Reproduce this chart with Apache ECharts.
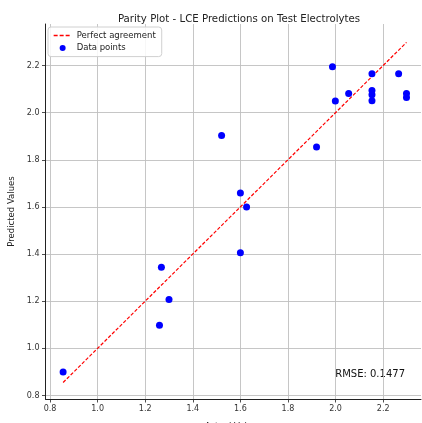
<!DOCTYPE html>
<html><head><meta charset="utf-8">
<script src="https://cdn.jsdelivr.net/npm/echarts@6/dist/echarts.min.js"></script>
<style>html,body{margin:0;padding:0;background:#fff}#c{width:422px;height:423px}</style>
</head><body><div id="c"></div>
<script>
const actual = [0.855, 1.26, 1.30, 1.268, 1.60, 1.60, 1.626, 1.92, 1.521, 1.987, 1.999, 2.055, 2.153, 2.153, 2.153, 2.153, 2.265, 2.298, 2.298];
const predicted = [0.90, 1.098, 1.207, 1.344, 1.405, 1.659, 1.60, 1.854, 1.903, 2.195, 2.049, 2.081, 2.165, 2.094, 2.076, 2.05, 2.165, 2.081, 2.064];
const xTicks = [0.8, 1.0, 1.2, 1.4, 1.6, 1.8, 2.0, 2.2];
const yTicks = [0.8, 1.0, 1.2, 1.4, 1.6, 1.8, 2.0, 2.2];
const rmseText = 'RMSE: 0.1477';
const titleText = 'Parity Plot - LCE Predictions on Test Electrolytes';

const lo = Math.min(...actual), hi = Math.max(...actual);
const font = 'DejaVu Sans';
const chart = echarts.init(document.getElementById('c'));
function axisCfg(ticks, min, max, name, isY) {
  return {
    type: 'value', min: min, max: max,
    name: name, nameLocation: 'middle', nameGap: isY ? 28.5 : 23.5,
    nameTextStyle: {fontFamily: font, fontSize: 8.5, color: '#222'},
    axisLine: {show: true, onZero: false, lineStyle: {color: '#222', width: 1}},
    axisTick: {show: true, length: 3.5, customValues: ticks, lineStyle: {color: '#222', width: 0.8}},
    axisLabel: {customValues: ticks, fontFamily: font, fontSize: 8, color: '#333', margin: 6,
      formatter: v => v.toFixed(1)},
    splitLine: {show: true, lineStyle: {color: '#bfbfbf', width: 0.9}}
  };
}
chart.setOption({
  animation: false,
  title: {text: titleText, left: 234, textAlign: 'center', top: 9,
    textStyle: {fontFamily: font, fontSize: 10.2, fontWeight: 'normal', color: '#222'}},
  grid: {left: 45.5, right: 1, top: 24, bottom: 24, containLabel: false, outerBoundsMode: 'none'},
  xAxis: axisCfg(xTicks, 0.781, 2.359, 'Actual Values', false),
  yAxis: axisCfg(yTicks, 0.785, 2.376, 'Predicted Values', true),
  legend: {
    left: 48, top: 27, orient: 'vertical', itemGap: 3.6, itemWidth: 18, itemHeight: 6,
    padding: [4, 6, 4, 5],
    borderColor: '#d0d0d0', borderWidth: 1, borderRadius: 3, backgroundColor: 'rgba(255,255,255,0.85)',
    textStyle: {fontFamily: font, fontSize: 8.5, color: '#222'},
    data: [
      {name: 'Perfect agreement', itemStyle: {opacity: 0, borderWidth: 0}, lineStyle: {type: [4, 2], width: 1.3}},
      {name: 'Data points', icon: 'circle', itemStyle: {color: '#0000ff'}}
    ]
  },
  series: [
    {name: 'Perfect agreement', type: 'line', data: [[lo, lo], [hi, hi]], showSymbol: false, symbol: 'none',
      lineStyle: {color: '#ff0000', type: [3.5, 1.8], width: 1.2}, itemStyle: {color: '#ff0000'}, z: 3},
    {name: 'Data points', type: 'scatter', data: actual.map((a, i) => [a, predicted[i]]),
      symbolSize: 7, itemStyle: {color: '#0000ff', opacity: 1}, z: 4}
  ],
  graphic: [{type: 'text', right: 17, top: 369,
    style: {text: rmseText, fontFamily: font, fontSize: 10, fill: '#111'}}]
});
</script></body></html>
